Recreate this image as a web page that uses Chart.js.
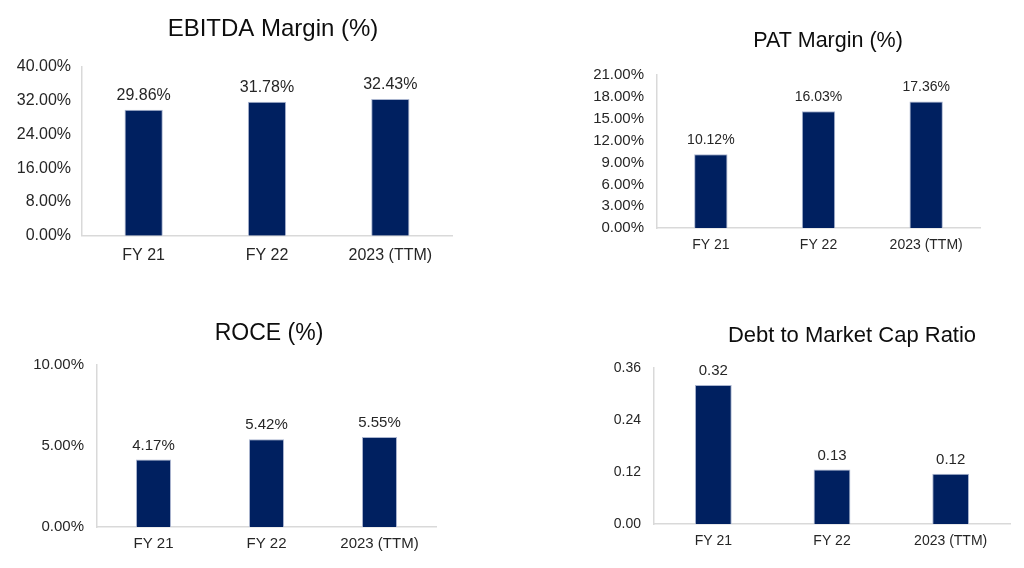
<!DOCTYPE html>
<html>
<head>
<meta charset="utf-8">
<script src="https://cdn.jsdelivr.net/npm/chart.js@4"></script>
<style>
  html, body { margin: 0; padding: 0; background: #fff; overflow: hidden; width: 1024px; height: 568px; }
  canvas { position: absolute; }
</style>
</head>
<body>
<canvas id="c1" width="547" height="290" style="left:0px;top:0px"></canvas>
<canvas id="c2" width="487" height="290" style="left:585px;top:0px"></canvas>
<canvas id="c3" width="538" height="278" style="left:0px;top:290px"></canvas>
<canvas id="c4" width="503" height="278" style="left:600px;top:290px"></canvas>
<script>
// data
const categories = ['FY 21', 'FY 22', '2023 (TTM)'];
const ebitdaMargin = [29.86, 31.78, 32.43];
const patMargin = [10.12, 16.03, 17.36];
const roce = [4.17, 5.42, 5.55];
const debtToMcap = [0.321, 0.126, 0.116];

// axis ranges [min, max, step]
const ebitdaAxis = [0, 40, 8];
const patAxis = [0, 21, 3];
const roceAxis = [0, 10, 5];
const debtAxis = [0, 0.36, 0.12];

const FONT = "'Liberation Sans', Arial, sans-serif";
const TEXT = '#262626';
const BAR = '#002060';
const AXIS = '#d9d9d9';

const pct = v => Number(v).toFixed(2) + '%';
const dec = v => Number(v).toFixed(2);

// draws the value above each bar
const valueLabels = {
    id: 'valueLabels',
    afterDatasetsDraw(chart, args, opts) {
        const ctx = chart.ctx;
        const meta = chart.getDatasetMeta(0);
        ctx.save();
        ctx.font = opts.size + 'px ' + FONT;
        ctx.fillStyle = TEXT;
        ctx.textAlign = 'center';
        ctx.textBaseline = 'middle';
        meta.data.forEach((bar, i) => {
            const v = chart.data.datasets[0].data[i];
            ctx.fillText(opts.fmt(v), bar.x, bar.y - 14);
        });
        ctx.restore();
    }
};

// title placed at its own spot (the built-in one centres over the padded area)
const chartTitle = {
    id: 'chartTitle',
    afterDraw(chart, args, opts) {
        const ctx = chart.ctx;
        ctx.save();
        ctx.font = opts.size + 'px ' + FONT;
        ctx.fillStyle = '#0d0d0d';
        ctx.textAlign = 'center';
        ctx.textBaseline = 'middle';
        ctx.fillText(opts.text, opts.x, opts.y);
        ctx.restore();
    }
};

function makeChart(id, title, values, axis, fmt, cfg) {
    return new Chart(document.getElementById(id), {
        type: 'bar',
        data: {
            labels: categories,
            datasets: [{
                data: values,
                backgroundColor: BAR,
                borderColor: '#aab5cf',
                borderWidth: 1,
                categoryPercentage: 1,
                barPercentage: 0.31
            }]
        },
        plugins: [valueLabels, chartTitle],
        options: {
            responsive: false,
            animation: false,
            layout: { padding: cfg.pad },
            plugins: {
                legend: { display: false },
                tooltip: { enabled: false },
                title: { display: false },
                chartTitle: { text: title, x: cfg.titleX, y: cfg.titleY, size: cfg.titleSize },
                valueLabels: { size: cfg.labelSize, fmt: fmt }
            },
            scales: {
                x: {
                    grid: { display: false, drawTicks: false },
                    border: { display: true, color: AXIS, width: 1.5 },
                    ticks: { color: TEXT, font: { family: FONT, size: cfg.xSize }, padding: cfg.xPad, maxRotation: 0 }
                },
                y: {
                    min: axis[0],
                    max: axis[1],
                    grid: { display: false, drawTicks: false },
                    border: { display: true, color: AXIS, width: 1.5 },
                    ticks: {
                        stepSize: axis[2],
                        autoSkip: false,
                        color: TEXT,
                        font: { family: FONT, size: cfg.ySize },
                        padding: cfg.yPad,
                        callback: v => fmt(v)
                    },
                    afterFit: s => { s.width = cfg.yWidth; }
                }
            }
        }
    });
}

makeChart('c1', 'EBITDA Margin (%)', ebitdaMargin, ebitdaAxis, pct, {
    pad: { left: 5, right: 95, top: 67, bottom: 15 },
    yWidth: 77, titleSize: 24, titleX: 273, titleY: 29,
    ySize: 16, yPad: 11, xSize: 16, xPad: 10, labelSize: 16
});

makeChart('c2', 'PAT Margin (%)', patMargin, patAxis, pct, {
    pad: { left: 3, right: 92, top: 75, bottom: 27 },
    yWidth: 69, titleSize: 21.5, titleX: 243, titleY: 41,
    ySize: 15, yPad: 13, xSize: 14, xPad: 9, labelSize: 14
});

makeChart('c3', 'ROCE (%)', roce, roceAxis, pct, {
    pad: { left: 10, right: 102, top: 75, bottom: 7 },
    yWidth: 87, titleSize: 23, titleX: 269, titleY: 44,
    ySize: 15, yPad: 13, xSize: 15, xPad: 8, labelSize: 15
});

makeChart('c4', 'Debt to Market Cap Ratio', debtToMcap, debtAxis, dec, {
    pad: { left: 5, right: 93, top: 78, bottom: 9 },
    yWidth: 49, titleSize: 22, titleX: 252, titleY: 46,
    ySize: 14, yPad: 13, xSize: 14, xPad: 9, labelSize: 15
});
</script>
</body>
</html>
